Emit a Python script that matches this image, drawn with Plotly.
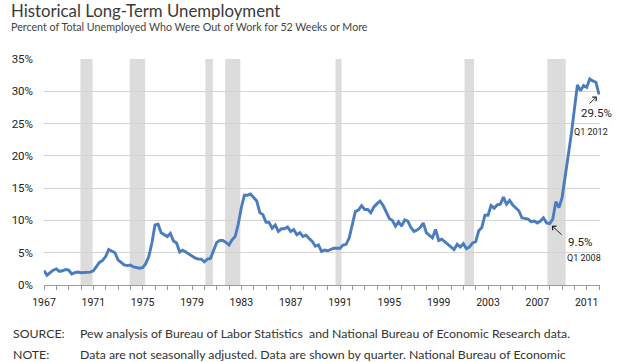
import plotly.graph_objects as go
import pandas as pd

# ---------------- data ----------------
title_text = "Historical Long-Term Unemployment"
subtitle_text = "Percent of Total Unemployed Who Were Out of Work for 52 Weeks or More"
source_label = "SOURCE:"
source_text = "Pew analysis of Bureau of Labor Statistics  and National Bureau of Economic Research data."
note_label = "NOTE:"
note_text = "Data are not seasonally adjusted. Data are shown by quarter. National Bureau of Economic"

first_quarter = "1967Q1"
# quarterly share (%) of unemployed out of work 52+ weeks, 1967Q1 .. 2012Q1
share_pct = [
    2.25, 1.5, 1.9, 2.3,      # 1967
    2.5, 2.1, 2.2, 2.4,       # 1968
    2.3, 1.7, 1.9, 2.0,       # 1969
    1.9, 1.9, 2.0, 2.0,       # 1970
    2.2, 2.8, 3.5, 3.8,       # 1971
    4.4, 5.5, 5.2, 5.0,       # 1972
    3.9, 3.5, 3.1, 3.0,       # 1973
    3.1, 2.8, 2.7, 2.6,       # 1974
    2.7, 3.3, 4.4, 6.5,       # 1975
    9.3, 9.4, 8.1, 7.8,       # 1976
    7.5, 8.0, 6.8, 6.5,       # 1977
    5.1, 5.4, 5.1, 4.7,       # 1978
    4.4, 4.2, 4.0, 4.0,       # 1979
    3.6, 4.0, 4.1, 5.4,       # 1980
    6.6, 6.9, 6.9, 6.6,       # 1981
    6.2, 7.0, 7.5, 9.4,       # 1982
    12.0, 13.9, 13.9, 14.1,   # 1983
    13.6, 13.0, 11.2, 10.9,   # 1984
    9.7, 9.7, 8.8, 9.3,       # 1985
    8.3, 8.7, 8.7, 9.0,       # 1986
    8.3, 8.6, 7.8, 8.1,       # 1987
    7.5, 7.7, 7.2, 6.75,      # 1988
    6.0, 6.2, 5.2, 5.4,       # 1989
    5.3, 5.5, 5.7, 5.7,       # 1990
    5.7, 6.2, 6.3, 7.3,       # 1991
    9.3, 11.4, 11.6, 12.3,    # 1992
    11.7, 11.7, 11.2, 12.1,   # 1993
    12.6, 13.0, 12.3, 11.3,   # 1994
    10.3, 10.0, 9.1, 9.8,     # 1995
    9.1, 10.1, 9.9, 8.9,      # 1996
    8.3, 8.5, 8.9, 9.6,       # 1997
    8.1, 7.7, 7.3, 8.6,       # 1998
    6.9, 7.1, 6.7, 6.4,       # 1999
    6.0, 5.5, 6.3, 5.9,       # 2000
    6.4, 5.6, 5.9, 6.5,       # 2001
    6.7, 8.4, 8.9, 10.8,      # 2002
    10.8, 12.3, 11.9, 12.4,   # 2003
    12.5, 13.6, 12.5, 13.1,   # 2004
    12.4, 12.0, 11.5, 10.4,   # 2005
    10.3, 10.2, 9.8, 9.9,     # 2006
    9.6, 9.9, 10.4, 9.6,      # 2007
    9.5, 10.2, 12.9, 12.0,    # 2008
    13.5, 16.5, 19.8, 23.3,   # 2009
    27.2, 31.0, 30.1, 30.9,   # 2010
    30.6, 31.9, 31.6, 31.4,   # 2011
    29.5,                     # 2012
]

recession_start = ["1969-12-15", "1973-12-15", "1980-02-01", "1981-09-10",
                   "1990-08-20", "2001-02-05", "2007-10-25"]
recession_end = ["1970-12-10", "1975-03-15", "1980-09-10", "1982-12-01",
                 "1991-02-15", "2001-11-10", "2009-04-20"]

x_tick_years = list(range(1967, 2012, 4))
y_ticks = [0, 5, 10, 15, 20, 25, 30, 35]

callout_quarters = ["2008Q1", "2012Q1"]
callout_values = [9.5, 29.5]
callout_labels = ["9.5%", "29.5%"]
callout_periods = ["Q1 2008", "Q1 2012"]

# ---------------- figure ----------------
dates = pd.period_range(first_quarter, periods=len(share_pct), freq="Q").to_timestamp()

NARROW = "Roboto, sans-serif"
MAIN = "Lato, 'Open Sans', sans-serif"
LINE_COLOR = "#4a7dbf"

fig = go.Figure()
fig.add_trace(go.Scatter(
    x=dates, y=share_pct, mode="lines",
    line=dict(color=LINE_COLOR, width=2.9),
    hoverinfo="skip", showlegend=False,
))

for s, e in zip(recession_start, recession_end):
    fig.add_shape(type="rect", xref="x", yref="paper", x0=s, x1=e, y0=0, y1=1,
                  fillcolor="#dcdcdc", line=dict(width=0), layer="between")

W, H = 620, 362
ML, MR, MT, MB = 41, 20, 59, 77
PW, PH = W - ML - MR, H - MT - MB


def px_x(x):
    return (x - ML) / PW


def px_y(y):
    return 1 - (y - MT) / PH


FOOT = 12.3
annotations = [
    dict(text=title_text, x=px_x(6), y=px_y(10), xref="paper", yref="paper",
         xanchor="left", yanchor="middle", showarrow=False,
         font=dict(family=MAIN, size=16.8, color="#3a3a3a")),
    dict(text=subtitle_text, x=px_x(6), y=px_y(26), xref="paper", yref="paper",
         xanchor="left", yanchor="middle", showarrow=False,
         font=dict(family=MAIN, size=10.7, color="#444444")),
    dict(text=source_label, x=px_x(8), y=px_y(333), xref="paper", yref="paper",
         xanchor="left", yanchor="middle", showarrow=False,
         font=dict(family=MAIN, size=FOOT, color="#333333")),
    dict(text=source_text, x=px_x(75), y=px_y(333), xref="paper", yref="paper",
         xanchor="left", yanchor="middle", showarrow=False,
         font=dict(family=MAIN, size=FOOT, color="#333333")),
    dict(text=note_label, x=px_x(8), y=px_y(354), xref="paper", yref="paper",
         xanchor="left", yanchor="middle", showarrow=False,
         font=dict(family=MAIN, size=FOOT, color="#333333")),
    dict(text=note_text, x=px_x(75), y=px_y(354), xref="paper", yref="paper",
         xanchor="left", yanchor="middle", showarrow=False,
         font=dict(family=MAIN, size=FOOT, color="#333333")),
]

cq = pd.PeriodIndex(callout_quarters, freq="Q").to_timestamp()
arrow_offsets = [(13.5, 12.5), (-11, 10.5)]
value_shifts = [(30.5, -18), (-3, -18.5)]
period_shifts = [(34, -34), (-8.5, -37)]
for i in range(len(callout_values)):
    annotations.append(dict(
        text=" ", x=cq[i], y=callout_values[i], xref="x", yref="y",
        showarrow=True, arrowhead=4, arrowsize=1.1, arrowwidth=1,
        arrowcolor="#222222", ax=arrow_offsets[i][0], ay=arrow_offsets[i][1],
        standoff=3, font=dict(size=1)))
    annotations.append(dict(
        text=callout_labels[i], x=cq[i], y=callout_values[i], xref="x", yref="y",
        showarrow=False, xshift=value_shifts[i][0], yshift=value_shifts[i][1],
        font=dict(family=NARROW, size=11.5, color="#222222")))
    annotations.append(dict(
        text=callout_periods[i], x=cq[i], y=callout_values[i], xref="x", yref="y",
        showarrow=False, xshift=period_shifts[i][0], yshift=period_shifts[i][1],
        font=dict(family=NARROW, size=9, color="#222222")))

fig.update_layout(
    width=W, height=H,
    margin=dict(l=ML, r=MR, t=MT, b=MB, pad=0),
    paper_bgcolor="white", plot_bgcolor="white",
    showlegend=False,
    annotations=annotations,
    xaxis=dict(
        type="date",
        range=["1967-01-01", "2012-01-30"],
        tickvals=[f"{y}-01-01" for y in x_tick_years],
        ticktext=[str(y) for y in x_tick_years],
        ticks="outside", ticklen=4, tickcolor="#9a9a9a", tickwidth=1,
        minor=dict(dtick="M12", tick0="1967-01-01", ticks="outside", ticklen=4,
                   tickcolor="#9a9a9a", tickwidth=1, showgrid=False),
        showline=True, linecolor="#9a9a9a", linewidth=1,
        showgrid=False, zeroline=False,
        tickfont=dict(family=NARROW, size=10.5, color="#222222"),
        ticklabelstandoff=3,
    ),
    yaxis=dict(
        range=[0, 35], tickvals=y_ticks,
        ticktext=[f"{v}%" for v in y_ticks],
        showgrid=True, gridcolor="#d4d4d4", gridwidth=1.3,
        zeroline=False, showline=False, ticks="",
        tickfont=dict(family=NARROW, size=11.5, color="#222222"),
        ticklabelstandoff=10,
    ),
)

fig.write_html("out.html", config={"displayModeBar": False},
               post_script="document.body.style.margin='0';")
